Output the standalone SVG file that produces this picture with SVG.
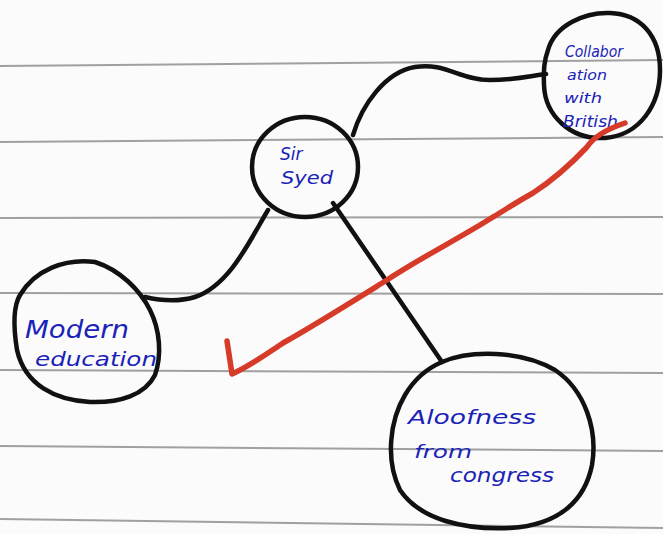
<svg xmlns="http://www.w3.org/2000/svg" width="663" height="534" viewBox="0 0 663 534">
<style>
.rule{stroke:#8a8a8a;stroke-width:2;fill:none;opacity:0.8}
.node{fill:none;stroke:#111;stroke-width:4.5;stroke-linejoin:round}
.conn{fill:none;stroke:#111;stroke-width:4.5;stroke-linecap:round}
.ink{font-family:"DejaVu Sans",sans-serif;fill:#1a22b8;font-style:italic}
.tick{fill:none;stroke:#d63a28;stroke-width:5.5;stroke-linecap:round;stroke-linejoin:round}
</style>
<rect width="663" height="534" fill="#fbfbfb"/>
<g id="paper">
<path class="rule" d="M0 66 L663 60"/>
<path class="rule" d="M0 142 L663 137"/>
<path class="rule" d="M0 218 L663 217"/>
<path class="rule" d="M0 293 L663 294"/>
<path class="rule" d="M0 370 L663 373"/>
<path class="rule" d="M0 446 L663 451"/>
<path class="rule" d="M0 519 L663 528"/>
</g>
<g id="connectors">
<path class="conn" d="M353 135 C362 105 385 72 415 67 C445 62 460 80 490 80 C515 80 530 76 546 74"/>
<path class="conn" d="M268 210 C250 240 230 285 195 297 C175 303 158 300 145 297"/>
<path class="conn" d="M333 203 L442 362"/>
</g>
<g id="node-sir-syed">
<ellipse class="node" cx="305" cy="167" rx="53" ry="50"/>
<text class="ink" x="280" y="160" font-size="17">Sir</text>
<text class="ink" x="281" y="184" font-size="17" textLength="52" lengthAdjust="spacingAndGlyphs">Syed</text>
</g>
<g id="node-collaboration">
<path class="node" d="M548 50 C555 25 585 12 610 13 C640 14 660 35 660 70 C660 105 640 135 605 138 C570 140 545 115 544 85 C543 70 545 58 548 50 Z"/>
<text class="ink" x="565" y="57" font-size="15" textLength="58" lengthAdjust="spacingAndGlyphs">Collabor</text>
<text class="ink" x="567" y="80" font-size="14" textLength="40" lengthAdjust="spacingAndGlyphs">ation</text>
<text class="ink" x="564" y="103" font-size="14" textLength="38" lengthAdjust="spacingAndGlyphs">with</text>
<text class="ink" x="563" y="127" font-size="15" textLength="55" lengthAdjust="spacingAndGlyphs">British</text>
</g>
<g id="node-modern-education">
<path class="node" d="M20 295 C35 270 65 258 95 262 C120 270 140 290 150 310 C160 330 162 355 155 375 C145 395 120 403 90 402 C55 400 25 385 17 350 C13 325 14 305 20 295 Z"/>
<text class="ink" x="25" y="338" font-size="24" textLength="104" lengthAdjust="spacingAndGlyphs">Modern</text>
<text class="ink" x="35" y="366" font-size="20" textLength="122" lengthAdjust="spacingAndGlyphs">education</text>
</g>
<g id="node-aloofness">
<path class="node" d="M442 362 C470 350 520 350 555 370 C585 390 598 430 592 465 C585 500 560 525 510 528 C465 530 420 520 400 490 C385 460 390 420 405 395 C415 378 428 368 442 362 Z"/>
<text class="ink" x="408" y="424" font-size="20" textLength="128" lengthAdjust="spacingAndGlyphs">Aloofness</text>
<text class="ink" x="414" y="458" font-size="18" textLength="58" lengthAdjust="spacingAndGlyphs">from</text>
<text class="ink" x="450" y="482" font-size="19" textLength="104" lengthAdjust="spacingAndGlyphs">congress</text>
</g>
<g id="mark">
<path class="tick" d="M625 123 C610 128 595 135 587 147 C570 165 550 182 533 193 C515 203 505 210 493 217 C460 238 420 258 387 280 C350 303 315 325 283 343 C265 355 250 366 232 374 L227 341"/>
</g>
</svg>
